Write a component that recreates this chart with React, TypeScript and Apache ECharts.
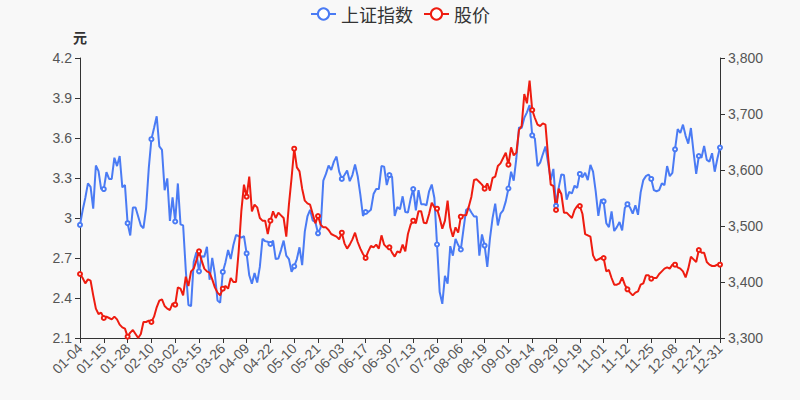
import React, { useEffect, useRef } from "react";
import * as echarts from "echarts";

const months: [string, number[]][] = [
  ["01", [4, 5, 6, 7, 8, 11, 12, 13, 14, 15, 18, 19, 20, 21, 22, 25, 26, 27, 28, 29]],
  ["02", [1, 2, 3, 4, 5, 8, 9, 10, 18, 19, 22, 23, 24, 25, 26]],
  ["03", [1, 2, 3, 4, 5, 8, 9, 10, 11, 12, 15, 16, 17, 18, 19, 22, 23, 24, 25, 26, 29, 30, 31]],
  ["04", [1, 2, 6, 7, 8, 9, 12, 13, 14, 15, 16, 19, 20, 21, 22, 23, 26, 27, 28, 29, 30]],
  ["05", [6, 7, 10, 11, 12, 13, 14, 17, 18, 19, 20, 21, 24, 25, 26, 27, 28, 31]],
  ["06", [1, 2, 3, 4, 7, 8, 9, 10, 11, 15, 16, 17, 18, 21, 22, 23, 24, 25, 28, 29, 30]],
  ["07", [1, 2, 5, 6, 7, 8, 9, 12, 13, 14, 15, 16, 19, 20, 21, 22, 23, 26, 27, 28, 29, 30]],
  ["08", [2, 3, 4, 5, 6, 9, 10, 11, 12, 13, 16, 17, 18, 19, 20, 23, 24, 25, 26, 27, 30, 31]],
  ["09", [1, 2, 3, 6, 7, 8, 9, 10, 13, 14, 15, 16, 17, 22, 23, 24, 27, 28, 29, 30]],
  ["10", [8, 11, 12, 13, 14, 15, 18, 19, 20, 21, 22, 25, 26, 27, 28, 29]],
  ["11", [1, 2, 3, 4, 5, 8, 9, 10, 11, 12, 15, 16, 17, 18, 19, 22, 23, 24, 25, 26, 29, 30]],
  ["12", [1, 2, 3, 6, 7, 8, 9, 10, 13, 14, 15, 16, 17, 20, 21, 22, 23, 24, 27, 28, 29, 30, 31]],
];

const dates: string[] = months.flatMap(([m, days]) =>
  days.map((d) => `${m}-${String(d).padStart(2, "0")}`)
);

const indexValues: number[] = [
  3502, 3528, 3550, 3576, 3570, 3531, 3608, 3598, 3566, 3566, 3596, 3584, 3584, 3622, 3607, 3625, 3569, 3573, 3505, 3483,
  3533, 3533, 3517, 3501, 3496, 3532, 3603, 3655, 3675, 3696, 3642, 3636, 3564, 3585, 3509,
  3551, 3508, 3576, 3503, 3501, 3421, 3359, 3357, 3436, 3453, 3419, 3446, 3445, 3463, 3404, 3443, 3414, 3367, 3363, 3418, 3435, 3457, 3441,
  3466, 3484, 3482, 3479, 3482, 3451, 3412, 3397, 3416, 3399, 3427, 3477, 3473, 3472, 3468, 3474, 3441, 3442, 3457, 3474, 3447,
  3441, 3418, 3428, 3441, 3462, 3430, 3490, 3517, 3529, 3510, 3507, 3487, 3497, 3581, 3593, 3608, 3600, 3615,
  3624, 3597, 3584, 3591, 3599, 3580, 3591, 3610, 3589, 3556, 3518, 3525, 3525, 3529, 3557, 3566, 3566, 3607, 3606, 3573, 3591,
  3588, 3518, 3534, 3530, 3553, 3525, 3524, 3548, 3566, 3528, 3564, 3539, 3539, 3537, 3562, 3574, 3550, 3467, 3382, 3361, 3411, 3397,
  3464, 3447, 3477, 3466, 3458, 3494, 3529, 3532, 3524, 3517, 3517, 3447, 3485, 3465, 3427, 3477, 3514, 3540, 3501, 3522, 3528, 3544,
  3567, 3597, 3581, 3621, 3676, 3675, 3693, 3703, 3716, 3662, 3656, 3607, 3613, 3628, 3642, 3613, 3582, 3602, 3536, 3568,
  3592, 3591, 3547, 3561, 3558, 3572, 3568, 3593, 3587, 3595, 3582, 3609, 3597, 3562, 3518, 3547,
  3544, 3505, 3498, 3526, 3491, 3498, 3507, 3492, 3532, 3539, 3533, 3522, 3537, 3520, 3560, 3582, 3589, 3592, 3584, 3564, 3562, 3564,
  3576, 3573, 3607, 3589, 3595, 3637, 3673, 3666, 3681, 3661, 3647, 3675, 3632, 3593, 3625, 3622, 3643, 3618, 3615, 3630, 3597, 3620, 3640,
];

const priceValues: number[] = [
  2.58, 2.55, 2.51, 2.54, 2.53, 2.42, 2.32, 2.28, 2.29, 2.25, 2.26, 2.25, 2.24, 2.26, 2.24, 2.2, 2.18, 2.17, 2.11, 2.14,
  2.16, 2.13, 2.1, 2.13, 2.22, 2.22, 2.23, 2.22, 2.26, 2.33, 2.38, 2.39, 2.34, 2.32, 2.31,
  2.36, 2.35, 2.48, 2.47, 2.42, 2.56, 2.49, 2.6, 2.62, 2.68, 2.75, 2.68, 2.62, 2.6, 2.59, 2.54, 2.48, 2.44, 2.42, 2.47, 2.49, 2.47, 2.55,
  2.52, 2.52, 2.75, 3.05, 3.25, 3.16, 3.31, 3.05, 3.1, 3.08, 3.0, 2.98, 2.98, 2.88, 2.98, 3.05, 3.0, 3.04, 3.02, 3.0, 2.86,
  3.1, 3.3, 3.52, 3.38, 3.35, 3.22, 3.13, 3.11, 3.1, 3.03, 2.96, 3.015, 2.95, 2.93, 2.93, 2.91, 2.88, 2.87,
  2.86, 2.84, 2.89, 2.81, 2.77, 2.8, 2.84, 2.89, 2.82, 2.77, 2.73, 2.7, 2.75, 2.79, 2.78, 2.8, 2.77, 2.87, 2.8, 2.78, 2.78,
  2.74, 2.71, 2.75, 2.74, 2.8, 2.75, 2.88, 2.95, 2.98, 2.96, 3.05, 3.05, 2.965, 2.96, 3.03, 3.115, 3.08, 3.07, 3.0, 2.92, 2.98, 3.13,
  2.93, 2.86, 2.93, 2.89, 3.01, 3.02, 3.02, 3.085, 3.16, 3.285, 3.29, 3.27, 3.25, 3.22, 3.26, 3.205, 3.3, 3.31, 3.39, 3.41, 3.45, 3.49,
  3.4, 3.53, 3.47, 3.49, 3.66, 3.69, 3.93, 3.86, 4.03, 3.81, 3.75, 3.7, 3.69, 3.71, 3.7, 3.46, 3.25, 3.24, 3.06, 3.22,
  3.18, 3.04, 3.04, 3.02, 3.0, 3.06, 3.09, 3.09, 3.03, 2.88, 2.87, 2.86, 2.72, 2.68, 2.69, 2.7,
  2.7, 2.6, 2.61, 2.55, 2.5, 2.5, 2.51, 2.555, 2.5, 2.465, 2.44, 2.42, 2.44, 2.45, 2.5, 2.51, 2.57, 2.57, 2.545, 2.55, 2.55, 2.58,
  2.6, 2.62, 2.63, 2.62, 2.65, 2.65, 2.63, 2.62, 2.6, 2.555, 2.62, 2.71, 2.69, 2.67, 2.76, 2.74, 2.74, 2.67, 2.65, 2.64, 2.64, 2.65, 2.65,
];

const leftTicks = { min: 2.1, max: 4.2, interval: 0.3 };
const rightTicks = { min: 3300, max: 3800, interval: 100 };

const BLUE = "#4a7bf4";
const RED = "#ee1c10";
const AXIS = "#333333";
const FONT = "Arial, 'Liberation Sans', 'Noto Sans CJK SC', sans-serif";

export default function App() {
  const ref = useRef<HTMLDivElement>(null);
  useEffect(() => {
    document.body.style.margin = "0";
    const chart = echarts.init(ref.current!, undefined, { renderer: "svg" });
    const last = dates.length - 1;
    const showIdx = (i: number) => i % 9 === 0 || i === last;
    chart.setOption({
      animation: false,
      backgroundColor: "#f8f8f8",
      textStyle: { fontFamily: FONT },
      legend: {
        top: 0,
        left: "center",
        itemWidth: 25,
        itemHeight: 14,
        itemGap: 10,
        textStyle: { fontSize: 18, color: "#333", fontFamily: "'Noto Sans CJK SC', sans-serif" },
        data: ["上证指数", "股价"],
      },
      grid: { left: 80, right: 80, top: 58, bottom: 62 },
      xAxis: {
        type: "category",
        data: dates,
        boundaryGap: false,
        axisLine: { lineStyle: { color: AXIS } },
        axisTick: { interval: (i: number) => showIdx(i) },
        axisLabel: {
          interval: (i: number) => showIdx(i),
          rotate: 45,
          color: "#555",
          fontSize: 14,
          margin: 8,
        },
      },
      yAxis: [
        {
          type: "value",
          name: "元",
          nameLocation: "end",
          nameGap: 14,
          nameTextStyle: { color: "#333", fontSize: 14, fontWeight: "bold", fontFamily: "'Noto Sans CJK SC', sans-serif", align: "center" },
          min: leftTicks.min,
          max: leftTicks.max,
          interval: leftTicks.interval,
          axisLine: { show: true, lineStyle: { color: AXIS } },
          axisTick: { show: true },
          splitLine: { show: false },
          axisLabel: { color: "#555", fontSize: 14 },
        },
        {
          type: "value",
          min: rightTicks.min,
          max: rightTicks.max,
          interval: rightTicks.interval,
          axisLine: { show: true, lineStyle: { color: AXIS } },
          axisTick: { show: true },
          splitLine: { show: false },
          axisLabel: { color: "#555", fontSize: 14 },
        },
      ],
      series: [
        {
          name: "上证指数",
          type: "line",
          yAxisIndex: 1,
          data: indexValues,
          symbol: "emptyCircle",
          symbolSize: 4,
          lineStyle: { width: 2, color: BLUE },
          itemStyle: { color: BLUE, borderWidth: 1 },
        },
        {
          name: "股价",
          type: "line",
          yAxisIndex: 0,
          data: priceValues,
          symbol: "emptyCircle",
          symbolSize: 4,
          lineStyle: { width: 2, color: RED },
          itemStyle: { color: RED, borderWidth: 1 },
        },
      ],
    });
    return () => chart.dispose();
  }, []);
  return <div ref={ref} style={{ width: 800, height: 400 }} />;
}
